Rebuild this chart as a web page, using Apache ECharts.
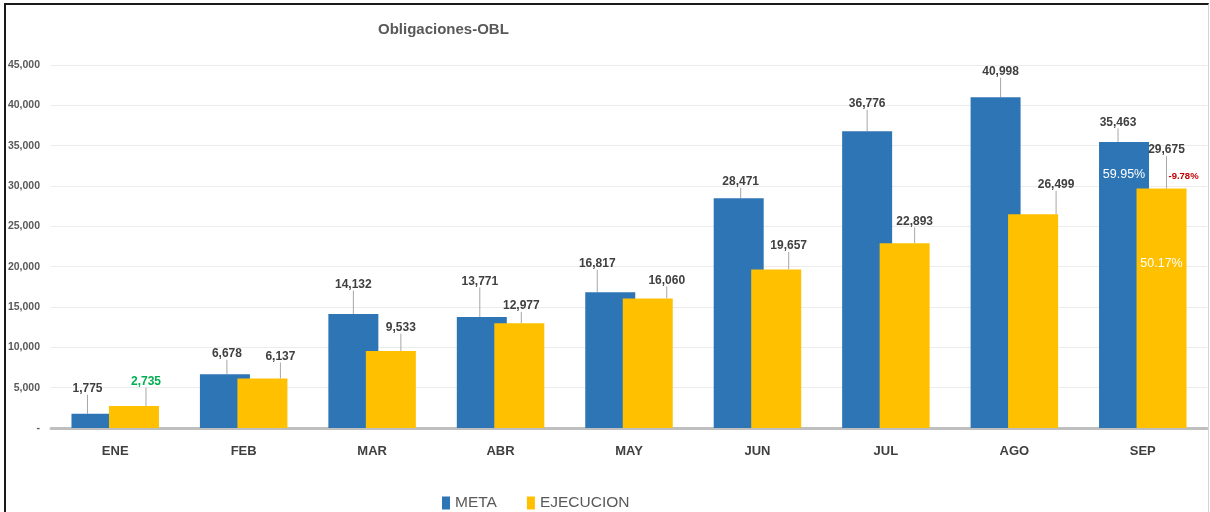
<!DOCTYPE html>
<html>
<head>
<meta charset="utf-8">
<script src="https://cdn.jsdelivr.net/npm/echarts@6/dist/echarts.min.js"></script>
<style>
  html, body { margin: 0; padding: 0; background: #fff; }
  #wrap { position: relative; width: 1210px; height: 512px; overflow: hidden; }
  #chart { position: absolute; left: 0; top: 0; width: 1210px; height: 512px; }
  #frame { position: absolute; left: 4px; top: 3px; width: 1202px; height: 520px;
           border-left: 2px solid #1a1a1a; border-top: 2px solid #1a1a1a;
           border-right: 1px solid #d4d4d4; pointer-events: none; }
</style>
</head>
<body>
<div id="wrap">
  <div id="chart"></div>
  <div id="frame"></div>
</div>
<script>
// ---- data ----
const categories = ['ENE', 'FEB', 'MAR', 'ABR', 'MAY', 'JUN', 'JUL', 'AGO', 'SEP'];
const meta = [1775, 6678, 14132, 13771, 16817, 28471, 36776, 40998, 35463];
const ejecucion = [2735, 6137, 9533, 12977, 16060, 19657, 22893, 26499, 29675];
const yTicks = [0, 5000, 10000, 15000, 20000, 25000, 30000, 35000, 40000, 45000];
const metaPctLast = '59.95%';
const ejecPctLast = '50.17%';
const variationLast = '-9.78%';
const greenLabelIndex = 0;

// ---- label placement (layout only) ----
const metaLabelShift = [[-9, -14], [2, -9.5], [0, -18.5], [-2, -24.5], [-13, -17.5], [2, -5.5], [0, -16.5], [5, -14.5], [-6, -8.5]];
const ejecLabelShift = [[12, -13.5], [18, -11], [10, -12.5], [2, -6.5], [19, -7], [12.5, -12.5], [10, -11], [23, -18.5], [5, -27.5]];

const FONT = "'Liberation Sans', Arial, sans-serif";
const fmt = v => v === 0 ? '-' : v.toLocaleString('en-US');
const last = categories.length - 1;

const chart = echarts.init(document.getElementById('chart'), null, { renderer: 'canvas' });

const labelBase = {
  show: true, position: 'top', distance: 5,
  fontFamily: FONT, fontSize: 12, fontWeight: 'bold', color: '#404040',
  formatter: p => fmt(p.value)
};
const labelLine = { show: true, lineStyle: { color: '#a6a6a6', width: 1 } };

chart.setOption({
  animation: false,
  backgroundColor: '#ffffff',
  title: {
    text: 'Obligaciones-OBL',
    left: 373, top: 17,
    textStyle: { fontFamily: FONT, fontSize: 15, fontWeight: 'bold', color: '#595959' }
  },
  legend: {
    data: ['META', 'EJECUCION'],
    left: 437, top: 490,
    icon: 'rect', itemWidth: 8, itemHeight: 13, itemGap: 30,
    textStyle: { fontFamily: FONT, fontSize: 15.5, color: '#595959' }
  },
  grid: { left: 51, right: 3, top: 65, bottom: 84, containLabel: false, outerBoundsMode: 'none' },
  xAxis: {
    type: 'category',
    data: categories,
    axisLine: { show: true, lineStyle: { color: '#bfbfbf', width: 3 } },
    axisTick: { show: false },
    axisLabel: { margin: 17, fontFamily: FONT, fontSize: 13, fontWeight: 'bold', color: '#404040' },
    splitLine: { show: false }
  },
  yAxis: {
    type: 'value',
    min: yTicks[0], max: yTicks[yTicks.length - 1], interval: yTicks[1] - yTicks[0],
    axisLine: { show: false },
    axisTick: { show: false },
    axisLabel: { margin: 11, fontFamily: FONT, fontSize: 10.5, fontWeight: 'bold', color: '#595959', formatter: fmt },
    splitLine: { show: true, lineStyle: { color: '#ececec', width: 1 } }
  },
  series: [
    {
      name: 'META', type: 'bar',
      data: meta,
      barWidth: 50, barGap: '-25%',
      itemStyle: { color: '#2E75B6' },
      label: labelBase,
      labelLine: labelLine,
      labelLayout: p => ({ dx: metaLabelShift[p.dataIndex][0], dy: metaLabelShift[p.dataIndex][1] }),
      markPoint: {
        symbol: 'rect', symbolSize: 1, itemStyle: { color: 'rgba(0,0,0,0)' },
        silent: true,
        data: [{
          coord: [last, meta[last]], value: metaPctLast,
          label: { show: true, position: 'inside', offset: [0, 33], formatter: metaPctLast,
                   fontFamily: FONT, fontSize: 12.5, color: '#ffffff' }
        }]
      },
      z: 2
    },
    {
      name: 'EJECUCION', type: 'bar',
      data: ejecucion.map((v, i) => i === greenLabelIndex ? { value: v, label: { color: '#00B050' } } : v),
      barWidth: 50, barGap: '-25%',
      itemStyle: { color: '#FFC000' },
      label: labelBase,
      labelLine: labelLine,
      labelLayout: p => ({ dx: ejecLabelShift[p.dataIndex][0], dy: ejecLabelShift[p.dataIndex][1] }),
      markPoint: {
        symbol: 'rect', symbolSize: 1, itemStyle: { color: 'rgba(0,0,0,0)' },
        silent: true,
        data: [
          {
            coord: [last, ejecucion[last]], value: ejecPctLast,
            label: { show: true, position: 'inside', offset: [0, 75], formatter: ejecPctLast,
                     fontFamily: FONT, fontSize: 12.5, color: '#ffffff' }
          },
          {
            coord: [last, ejecucion[last]], value: variationLast,
            label: { show: true, position: 'inside', offset: [22, -12], formatter: variationLast,
                     fontFamily: FONT, fontSize: 9.5, fontWeight: 'bold', color: '#C00000' }
          }
        ]
      },
      z: 3
    }
  ]
});
</script>
</body>
</html>
